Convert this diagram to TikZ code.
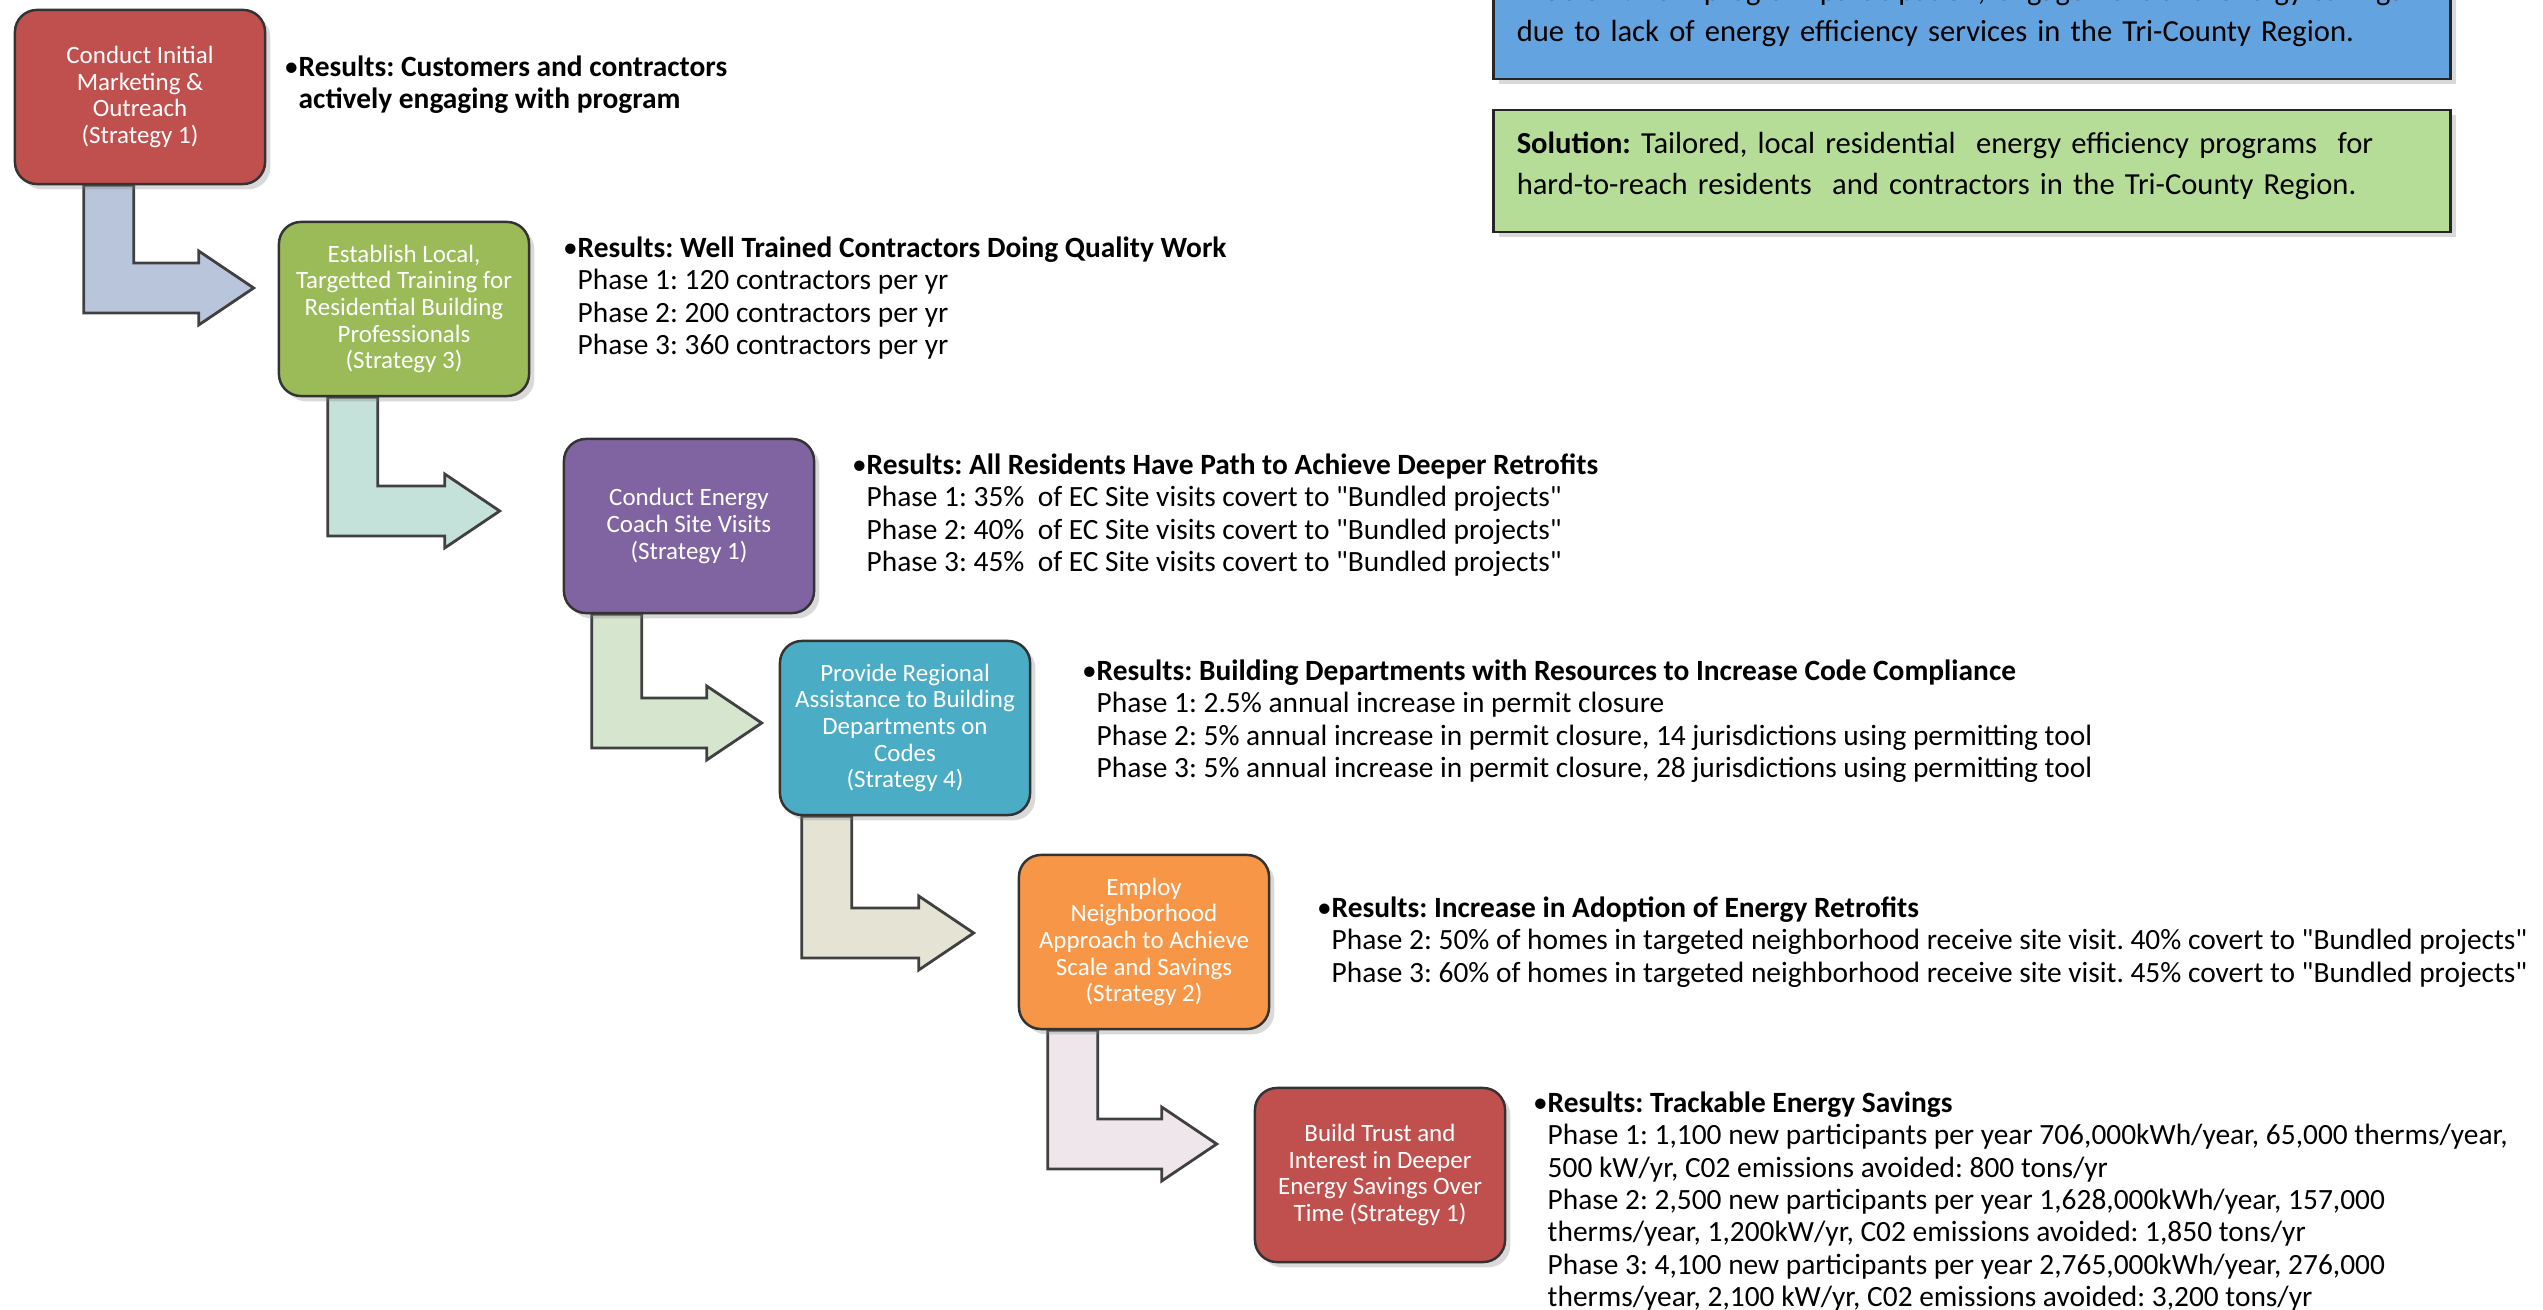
\documentclass[tikz,border=0pt]{standalone}
\usepackage{fontspec}
\setmainfont{Carlito}
\frenchspacing
\usepackage{tikz}
\usetikzlibrary{calc,shadows,backgrounds}
\definecolor{stratred}{HTML}{C0504D}
\definecolor{stratgreen}{HTML}{9BBB59}
\definecolor{stratpurple}{HTML}{8064A2}
\definecolor{stratteal}{HTML}{4BACC6}
\definecolor{stratorange}{HTML}{F79646}
\definecolor{probblue}{HTML}{62A3E0}
\definecolor{solgreen}{HTML}{B6DD98}
\definecolor{arrA}{HTML}{B9C5DA}
\definecolor{arrB}{HTML}{C5E2DA}
\definecolor{arrC}{HTML}{D5E5CE}
\definecolor{arrD}{HTML}{E4E3D4}
\definecolor{arrE}{HTML}{EEE6EA}
\tikzset{
strategy/.style={rectangle,rounded corners=0.22cm,draw=black!80,line width=0.7pt,
  minimum width=2.5cm,minimum height=1.74cm,inner sep=1pt,align=center,text=white,
  font=\fontsize{7.1}{7.6}\selectfont,
  drop shadow={opacity=0.3,shadow xshift=1.5pt,shadow yshift=-1.5pt}},
statement/.style={rectangle,draw=black!85,line width=0.8pt,text width=9.1cm,
  inner xsep=0.23cm,minimum height=1.22cm,align=left,
  font=\fontsize{8.7}{11.5}\selectfont,
  execute at end node={\rule[-4.5pt]{0pt}{0pt}},
  drop shadow={opacity=0.3,shadow xshift=1.5pt,shadow yshift=-1.5pt}},
result/.style={anchor=north west,align=left,inner sep=0pt,
  font=\fontsize{8.36}{9.2}\selectfont},
arrowline/.style={draw=black!75,line width=0.8pt}}
\newcommand{\bentarrow}[5]{%
  \draw[arrowline,fill=#5] let \p1=($(#1.south west)+(#2,0)$), \p2=($(#3.west)+(#4)$) in
    (\x1,\y1) -- (\x1+0.5cm,\y1) -- (\x1+0.5cm,\y2+0.25cm) -- (\x2-0.55cm,\y2+0.25cm)
    -- (\x2-0.55cm,\y2+0.37cm) -- (\x2,\y2) -- (\x2-0.55cm,\y2-0.37cm)
    -- (\x2-0.55cm,\y2-0.25cm) -- (\x1,\y2-0.25cm) -- cycle;}
\newcommand{\qt}{\textquotedbl}
\newcommand{\bul}{\llap{\textbullet}}

\begin{document}
\begin{tikzpicture}[x=0.01cm,y=-0.01cm]

\useasboundingbox (0,0) rectangle (2543,1310);
\clip (0,0) rectangle (2543,1310);

\node[strategy,fill=stratred] (b1) at (140,97) {Conduct Initial\\Marketing \&\\Outreach\\(Strategy 1)};
\node[strategy,fill=stratgreen] (b2) at (404,309) {Establish Local,\\Targetted Training for\\Residential Building\\Professionals\\(Strategy 3)};
\node[strategy,fill=stratpurple] (b3) at (689,526) {Conduct Energy\\Coach Site Visits\\(Strategy 1)};
\node[strategy,fill=stratteal] (b4) at (905,728) {Provide Regional\\Assistance to Building\\Departments on\\Codes\\(Strategy 4)};
\node[strategy,fill=stratorange] (b5) at (1144,942) {Employ\\Neighborhood\\Approach to Achieve\\Scale and Savings\\(Strategy 2)};
\node[strategy,fill=stratred] (b6) at (1380,1175) {Build Trust and\\Interest in Deeper\\Energy Savings Over\\Time (Strategy 1)};

\node[statement,fill=probblue] (problem) at (1972,18) {\textbf{Problem:} Low program participation, engagement and energy savings\\due to lack of energy efficiency services in the Tri-County Region.};
\node[statement,fill=solgreen] (solution) at (1972,171) {\textbf{Solution:} Tailored, local residential \ energy efficiency programs \ for\\hard-to-reach residents \ and contractors in the Tri-County Region.};

\node[result] (r1) at (298,55) {\bul\textbf{Results: Customers and contractors}\\\textbf{actively engaging with program}};
\node[result] (r2) at (577,236) {\bul\textbf{Results: Well Trained Contractors Doing Quality Work}\\Phase 1: 120 contractors per yr\\Phase 2: 200 contractors per yr\\Phase 3: 360 contractors per yr};
\node[result] (r3) at (866,453) {\bul\textbf{Results: All Residents Have Path to Achieve Deeper Retrofits}\\Phase 1: 35\% \ of EC Site visits covert to \qt Bundled projects\qt\\Phase 2: 40\% \ of EC Site visits covert to \qt Bundled projects\qt\\Phase 3: 45\% \ of EC Site visits covert to \qt Bundled projects\qt};
\node[result] (r4) at (1096,659) {\bul\textbf{Results: Building Departments with Resources to Increase Code Compliance}\\Phase 1: 2.5\% annual increase in permit closure\\Phase 2: 5\% annual increase in permit closure, 14 jurisdictions using permitting tool\\Phase 3: 5\% annual increase in permit closure, 28 jurisdictions using permitting tool};
\node[result] (r5) at (1331,896) {\bul\textbf{Results: Increase in Adoption of Energy Retrofits}\\Phase 2: 50\% of homes in targeted neighborhood receive site visit. 40\% covert to \qt Bundled projects\qt\\Phase 3: 60\% of homes in targeted neighborhood receive site visit. 45\% covert to \qt Bundled projects\qt};
\node[result] (r6) at (1547,1091) {\bul\textbf{Results: Trackable Energy Savings}\\Phase 1: 1,100 new participants per year 706,000kWh/year, 65,000 therms/year,\\500 kW/yr, C02 emissions avoided: 800 tons/yr\\Phase 2: 2,500 new participants per year 1,628,000kWh/year, 157,000\\therms/year, 1,200kW/yr, C02 emissions avoided: 1,850 tons/yr\\Phase 3: 4,100 new participants per year 2,765,000kWh/year, 276,000\\therms/year, 2,100 kW/yr, C02 emissions avoided: 3,200 tons/yr};

\begin{scope}[on background layer]
\bentarrow{b1}{70}{b2}{-24,-21}{arrA}
\bentarrow{b2}{50}{b3}{-63,-15}{arrB}
\bentarrow{b3}{29}{b4}{-17,-5}{arrC}
\bentarrow{b4}{23}{b5}{-44,-9}{arrD}
\bentarrow{b5}{30}{b6}{-37,-31}{arrE}
\end{scope}

\end{tikzpicture}
\end{document}
